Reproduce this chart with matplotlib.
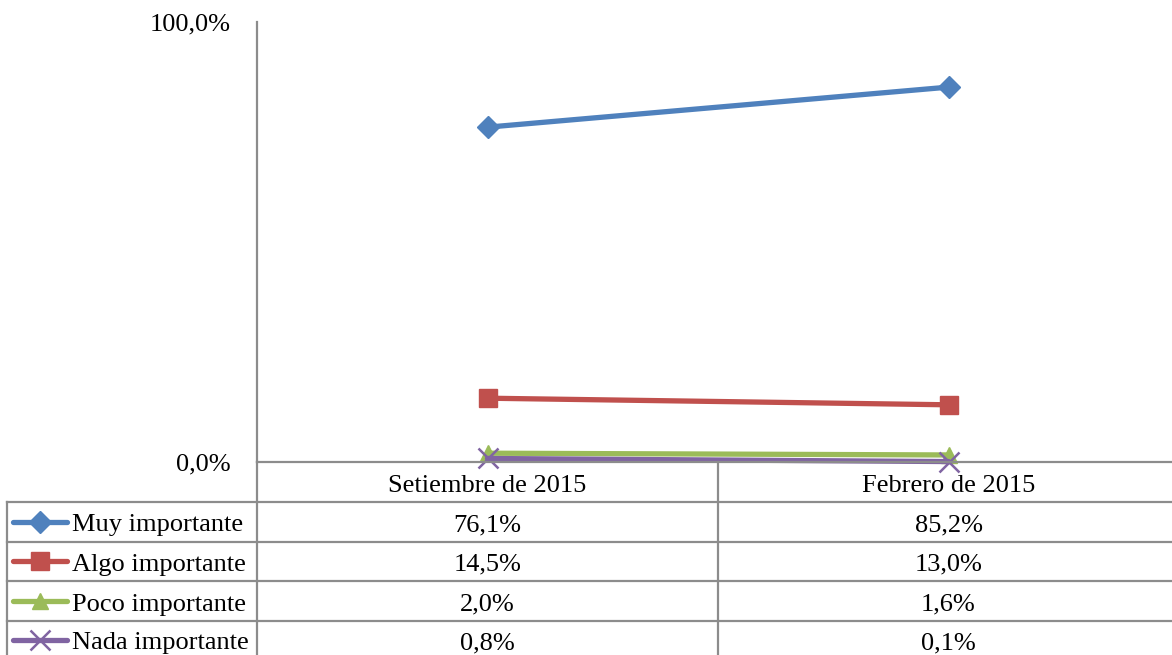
import matplotlib
matplotlib.use("Agg")
import matplotlib.pyplot as plt
from matplotlib.lines import Line2D

categories = ["Setiembre de 2015", "Febrero de 2015"]
series_names = ["Muy importante", "Algo importante", "Poco importante", "Nada importante"]
muy = [76.1, 85.2]
algo = [14.5, 13.0]
poco = [2.0, 1.6]
nada = [0.8, 0.1]
values = [muy, algo, poco, nada]
colors = ["#4F81BD", "#C0504D", "#9BBB59", "#8064A2"]
markers = ["D", "s", "^", "x"]
msizes = [11, 13, 12, 14]

W, H = 1172, 655
FONT = "Liberation Serif"
FS = 19
GRID = "#8C8C8C"
LW = 3.8

fig = plt.figure(figsize=(W / 100, H / 100), dpi=100)

# main plot axes: pixels x 257..1172, y 22..462
L, R, T, B = 257, 1172, 22, 462
ax = fig.add_axes([L / W, (H - B) / H, (R - L) / W, (B - T) / H])
colw = 461.0
xs = [0.5, 1.5]
for vals, c, m, ms in zip(values, colors, markers, msizes):
    ax.plot(xs, vals, color=c, lw=LW, marker=m, ms=ms, mec=c, mfc=c,
            mew=1.8 if m == "x" else 1, solid_capstyle="round", clip_on=False)
ax.set_xlim(0, (R - L) / colw)
ax.set_ylim(0, 100)
for s in ["top", "right"]:
    ax.spines[s].set_visible(False)
for s in ["left", "bottom"]:
    ax.spines[s].set_color(GRID)
    ax.spines[s].set_linewidth(1.6)
ax.set_xticks([])
ax.set_yticks([])
ax.patch.set_alpha(0)
ax.text(-26 / (R - L), 100, "100,0%", transform=ax.get_yaxis_transform(),
        ha="right", va="center_baseline", fontsize=FS, family=FONT)
ax.text(-26 / (R - L), 0, "0,0%", transform=ax.get_yaxis_transform(),
        ha="right", va="center_baseline", fontsize=FS, family=FONT)

# table axes in pixel coordinates
tax = fig.add_axes([0, 0, 1, (H - B) / H])
tax.set_xlim(0, W)
tax.set_ylim(H, B)
tax.axis("off")
tax.patch.set_alpha(0)

row_lines = [502, 541.5, 581, 620.5]
for y in row_lines:
    tax.plot([7, W], [y, y], color=GRID, lw=1.6, clip_on=False)
tax.plot([7, 7], [502, H + 5], color=GRID, lw=1.6, clip_on=False)
tax.plot([L, L], [B, H + 5], color=GRID, lw=1.6, clip_on=False)
tax.plot([L + colw, L + colw], [B, H + 5], color=GRID, lw=1.6, clip_on=False)

centers_x = [L + colw * x for x in xs]
for cx, cat in zip(centers_x, categories):
    tax.text(cx, 484, cat, ha="center", va="center_baseline", fontsize=FS, family=FONT)

row_centers = [522.5, 562, 602, 641]
for yc, name, vals, c, m, ms in zip(row_centers, series_names, values, colors, markers, msizes):
    tax.add_line(Line2D([13, 67], [yc - 1, yc - 1], color=c, lw=LW, solid_capstyle="round"))
    tax.plot([40], [yc - 1], marker=m, ms=ms, color=c, mec=c, mew=1.8 if m == "x" else 1)
    tax.text(72, yc, name, ha="left", va="center_baseline", fontsize=FS, family=FONT)
    for cx, v in zip(centers_x, vals):
        tax.text(cx, yc, f"{v:.1f}%".replace(".", ","), ha="center", va="center_baseline",
                 fontsize=FS, family=FONT)

fig.savefig("out.png", dpi=100)
